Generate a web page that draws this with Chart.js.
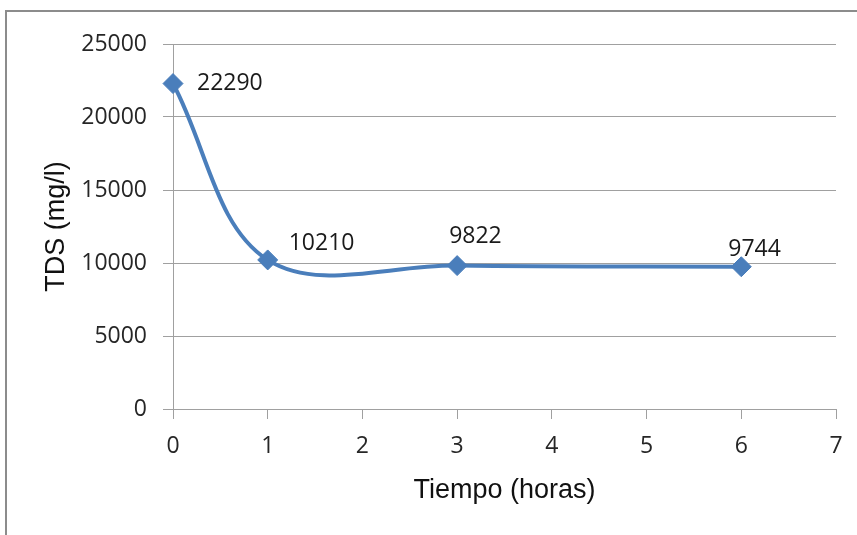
<!DOCTYPE html>
<html>
<head>
<meta charset="utf-8">
<script src="https://cdn.jsdelivr.net/npm/chart.js@4/dist/chart.umd.min.js"></script>
<style>
  html, body { margin: 0; padding: 0; background: #fff; overflow: hidden; }
  #wrap { position: relative; width: 857px; height: 535px; }
  #frame { position: absolute; left: 5px; top: 10px; width: 900px; height: 600px;
           border-left: 2px solid #8c8c8c; border-top: 2px solid #8c8c8c; box-sizing: border-box; }
  canvas { position: absolute; left: 0; top: 0; }
</style>
</head>
<body>
<div id="wrap">
  <div id="frame"></div>
  <canvas id="c" width="857" height="535"></canvas>
</div>
<script>
// Sampling times (hours) and measured total dissolved solids (mg/l)
const horas = [0, 1, 3, 6];
const tds = [22290, 10210, 9822, 9744];
const xTicks = [0, 1, 2, 3, 4, 5, 6, 7];
const yTicks = [0, 5000, 10000, 15000, 20000, 25000];

// Where each value label sits relative to its marker (dx, dy in px)
const labelOffsets = [[24, 0], [21, -16], [-8, -29], [-13, -17]];

const tickFont = { family: "'Open Sans', sans-serif", size: 23 };
const titleFont = { family: "'Liberation Sans', Arial, sans-serif", size: 27 };
const gridColor = '#a0a0a0';

const valueLabels = {
  id: 'valueLabels',
  afterDatasetsDraw(chart) {
    const ctx = chart.ctx;
    const meta = chart.getDatasetMeta(0);
    ctx.save();
    ctx.font = `${tickFont.size}px ${tickFont.family}`;
    ctx.fillStyle = '#1a1a1a';
    ctx.textAlign = 'left';
    ctx.textBaseline = 'middle';
    meta.data.forEach((pt, i) => {
      const [dx, dy] = labelOffsets[i];
      ctx.fillText(String(tds[i]), pt.x + dx, pt.y + dy);
    });
    ctx.restore();
  }
};

new Chart(document.getElementById('c'), {
  type: 'line',
  data: {
    datasets: [{
      data: horas.map((h, i) => ({ x: h, y: tds[i] })),
      borderColor: '#4a7ebb',
      backgroundColor: '#4a7ebb',
      borderWidth: 4,
      tension: 0.36,
      pointStyle: 'rectRot',
      pointRadius: 10,
      pointBorderWidth: 1,
      pointBorderColor: '#4a7ebb',
      pointBackgroundColor: '#4a7ebb',
      clip: false
    }]
  },
  options: {
    responsive: false,
    animation: false,
    events: [],
    layout: { padding: { top: 44, right: 21, bottom: 0, left: 0 } },
    plugins: { legend: { display: false }, tooltip: { enabled: false } },
    scales: {
      x: {
        type: 'linear',
        min: 0, max: 7,
        afterFit(scale) { scale.height = 126; },
        afterBuildTicks(scale) { scale.ticks = xTicks.map(v => ({ value: v })); },
        grid: { drawOnChartArea: false, drawTicks: true, tickLength: 10, color: gridColor },
        border: { color: gridColor, width: 1 },
        ticks: { font: tickFont, color: '#262626', padding: 14, maxRotation: 0,
                 callback: v => String(v) },
        title: { display: true, text: 'Tiempo (horas)', font: titleFont, color: '#111',
                 padding: { top: 0, bottom: 28 } }
      },
      y: {
        min: 0, max: 25000,
        afterFit(scale) { scale.width = 173; },
        afterBuildTicks(scale) { scale.ticks = yTicks.map(v => ({ value: v })); },
        grid: { drawTicks: true, tickLength: 10, color: gridColor },
        border: { color: gridColor, width: 1 },
        ticks: { font: tickFont, color: '#262626', padding: 16, callback: v => String(v) },
        title: { display: true, text: 'TDS (mg/l)', font: titleFont, color: '#111',
                 padding: { top: 40, bottom: 0 } }
      }
    }
  },
  plugins: [valueLabels]
});
</script>
</body>
</html>
